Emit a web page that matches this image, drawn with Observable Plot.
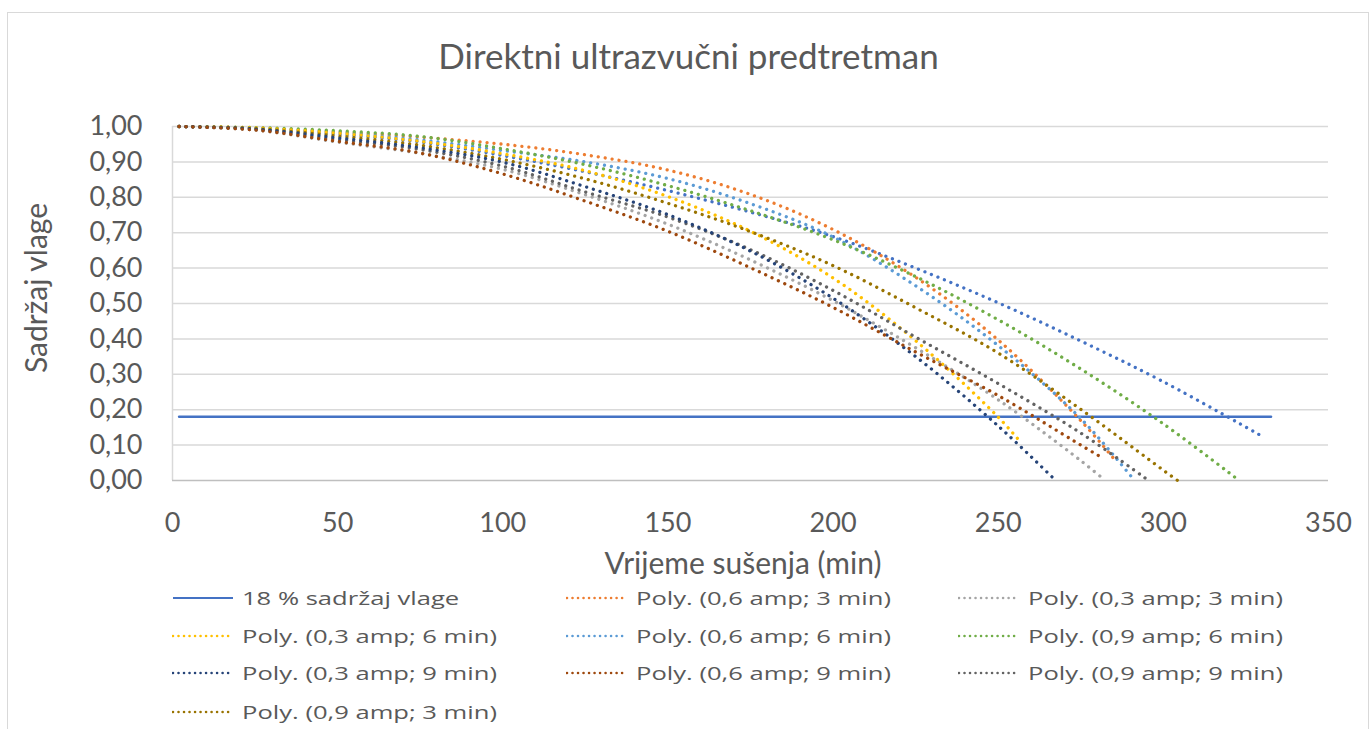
<!DOCTYPE html>
<html><head><meta charset="utf-8">
<script src="https://cdn.jsdelivr.net/npm/d3@7"></script>
<script src="https://cdn.jsdelivr.net/npm/@observablehq/plot@0.6"></script>
<style>
body{margin:0;background:#fff;}
#wrap{position:relative;width:1371px;height:729px;overflow:hidden;font-family:Lato,sans-serif;color:#595959;}
#frame{position:absolute;left:7px;top:12px;width:1360px;height:740px;border:1px solid #d9d9d9;}
#title{position:absolute;left:0;width:1377px;top:33px;text-align:center;font-size:35px;line-height:44px;}
#plot{position:absolute;left:0;top:90px;}
#ylab{position:absolute;left:35px;top:288px;transform:translate(-50%,-50%) rotate(-90deg);font-size:30px;white-space:nowrap;}
#xlab{position:absolute;left:743px;top:562px;transform:translate(-50%,-50%);font-size:30px;white-space:nowrap;}
.leg{position:absolute;height:24px;display:flex;align-items:center;}
.leg svg{flex:none;}
.leg span{font-family:"Open Sans",sans-serif;font-size:19px;white-space:nowrap;display:inline-block;transform-origin:left center;margin-left:8px;}
</style>
</head><body>
<div id="wrap">
  <div id="frame"></div>
  <div id="title">Direktni ultrazvučni predtretman</div>
  <div id="plot"></div>
  <div id="ylab">Sadržaj vlage</div>
  <div id="xlab">Vrijeme sušenja (min)</div>
  <div id="legend"></div>
</div>
<script>
// ---- data ----
const xTicks = [0, 50, 100, 150, 200, 250, 300, 350];
const yTicks = [0, 0.1, 0.2, 0.3, 0.4, 0.5, 0.6, 0.7, 0.8, 0.9, 1.0];

const thresholdTimes = [2, 332.6];
const thresholdValues = [0.18, 0.18];

const times = [2, 25, 50, 75, 100, 125, 150, 175, 200, 225, 250, 275, 300];

const v06_3 = [1.000, 0.996, 0.985, 0.970, 0.950, 0.920, 0.877, 0.808, 0.709, 0.574, 0.397, 0.169, null];
const v03_3 = [1.000, 0.990, 0.956, 0.924, 0.879, 0.807, 0.724, 0.623, 0.508, 0.375, 0.228, 0.056, null];
const v03_6 = [1.000, 0.996, 0.981, 0.958, 0.923, 0.875, 0.802, 0.704, 0.572, 0.395, 0.179, null, null];
const v06_6 = [1.000, 0.995, 0.983, 0.962, 0.932, 0.900, 0.853, 0.782, 0.688, 0.550, 0.381, 0.175, null];
const v09_6 = [1.000, 0.997, 0.988, 0.972, 0.937, 0.892, 0.833, 0.762, 0.680, 0.576, 0.454, 0.315, 0.160];
const v03_9 = [1.000, 0.993, 0.968, 0.940, 0.899, 0.830, 0.751, 0.648, 0.515, 0.350, 0.154, null, null];
const v06_9 = [1.000, 0.990, 0.958, 0.925, 0.866, 0.789, 0.704, 0.601, 0.489, 0.363, 0.240, 0.100, null];
const v09_9 = [1.000, 0.992, 0.963, 0.935, 0.888, 0.815, 0.744, 0.652, 0.537, 0.405, 0.274, 0.134, null];
const v09_3 = [1.000, 0.994, 0.973, 0.947, 0.907, 0.852, 0.783, 0.703, 0.607, 0.488, 0.360, 0.201, 0.029];
const vExtra = [1.000, 0.995, 0.978, 0.956, 0.918, 0.872, 0.819, 0.758, 0.689, 0.600, 0.502, 0.394, 0.279];

// last visible point of each trend line
const endTimes  = [284.8, 281.9, 257.0, 291.0, 322.4, 267.4, 280.6, 295.5, 304.3, 329.7];
const endValues = [0.064, 0.004, 0.106, 0.003, 0.004, 0.000, 0.069, 0.000, 0.000, 0.126];

const seriesLabels = [
  "Poly. (0,6 amp; 3 min)", "Poly. (0,3 amp; 3 min)", "Poly. (0,3 amp; 6 min)",
  "Poly. (0,6 amp; 6 min)", "Poly. (0,9 amp; 6 min)", "Poly. (0,3 amp; 9 min)",
  "Poly. (0,6 amp; 9 min)", "Poly. (0,9 amp; 9 min)", "Poly. (0,9 amp; 3 min)", ""
];
const seriesColors = ["#ED7D31", "#A5A5A5", "#FFC000", "#5B9BD5", "#70AD47",
                      "#264478", "#9E480E", "#636363", "#997300", "#4472C4"];
const seriesValues = [v06_3, v03_3, v03_6, v06_6, v09_6, v03_9, v06_9, v09_9, v09_3, vExtra];

const thresholdLabel = "18 % sadržaj vlage";
const thresholdColor = "#4472C4";

// legend layout order (rows of three)
const legendOrder = ["T", 0, 1, 2, 3, 4, 5, 6, 7, 8];

// ---- build ----
const thresholdRows = thresholdTimes.map((t, i) => ({x: t, y: thresholdValues[i]}));
const seriesRows = seriesValues.map((vals, i) => {
  const rows = [];
  times.forEach((t, j) => { if (vals[j] != null) rows.push({x: t, y: vals[j]}); });
  rows.push({x: endTimes[i], y: endValues[i]});
  return rows;
});

const drawOrder = [9, 0, 3, 4, 2, 8, 1, 7, 5, 6];

const chart = Plot.plot({
  width: 1371, height: 490,
  marginTop: 36, marginBottom: 100, marginLeft: 172, marginRight: 43,
  x: {domain: [0, 350]},
  y: {domain: [0, 1]},
  style: {fontFamily: "Lato, sans-serif", fontSize: "27px", color: "#595959", background: "transparent", overflow: "visible"},
  marks: [
    Plot.ruleY(yTicks.filter(d => d > 0), {stroke: "#d9d9d9", strokeWidth: 1.5}),
    Plot.ruleX([0], {stroke: "#d9d9d9", strokeWidth: 1.5}),
    Plot.ruleY([0], {stroke: "#bfbfbf", strokeWidth: 1.5}),
    Plot.axisY({ticks: yTicks, tickSize: 0, tickPadding: 30, label: null,
                tickFormat: d => d.toFixed(2).replace(".", ",")}),
    Plot.axisX({ticks: xTicks, tickSize: 0, tickPadding: 32, label: null}),
    Plot.line(thresholdRows, {x: "x", y: "y", stroke: thresholdColor, strokeWidth: 2.5}),
    ...drawOrder.map(i => Plot.line(seriesRows[i], {
      x: "x", y: "y", stroke: seriesColors[i], strokeWidth: 3.3,
      strokeDasharray: "0.01 7", strokeLinecap: "round", curve: "catmull-rom"
    }))
  ]
});
document.getElementById("plot").appendChild(chart);

// ---- legend ----
const colX = [172, 566, 958];
const rowY = [598, 635.5, 673, 711.5];
const legend = document.getElementById("legend");
const spans = [];
legendOrder.forEach((k, idx) => {
  const col = idx % 3, row = Math.floor(idx / 3);
  const div = document.createElement("div");
  div.className = "leg";
  div.style.left = colX[col] + "px";
  div.style.top = (rowY[row] - 12) + "px";
  const isT = k === "T";
  const color = isT ? thresholdColor : seriesColors[k];
  const dash = isT ? "" : ' stroke-dasharray="0.01 5.5" stroke-linecap="round"';
  div.innerHTML = `<svg width="62" height="8"><line x1="1" y1="4" x2="61" y2="4" stroke="${color}" stroke-width="${isT ? 2 : 2.6}"${dash}/></svg>`;
  const sp = document.createElement("span");
  sp.textContent = isT ? thresholdLabel : seriesLabels[k];
  div.appendChild(sp);
  legend.appendChild(div);
  spans.push(sp);
});
const ref = spans[1].getBoundingClientRect().width;
const f = ref > 0 ? 255 / ref : 1;
spans.forEach(s => { s.style.transform = `scaleX(${f})`; });
</script>
</body></html>
